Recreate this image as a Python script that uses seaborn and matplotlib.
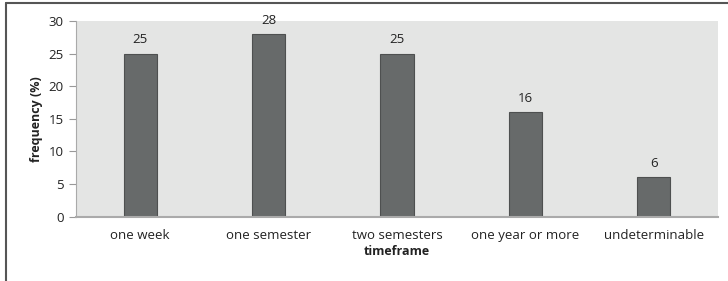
import matplotlib
matplotlib.use("Agg")
import matplotlib.pyplot as plt
import seaborn as sns
import pandas as pd

categories = ["one week", "one semester", "two semesters", "one year or more", "undeterminable"]
values = [25, 28, 25, 16, 6]
yticks = [0, 5, 10, 15, 20, 25, 30]

sns.set_theme(style="white")
plt.rcParams['font.family'] = ['Open Sans', 'DejaVu Sans']

df = pd.DataFrame({"timeframe": categories, "frequency": values})

fig = plt.figure(figsize=(7.28, 2.81), dpi=100)
ax = fig.add_axes([76/728, 1 - 216.5/281, 642/728, 195.5/281])
ax.set_facecolor("#e4e5e4")

sns.barplot(data=df, x="timeframe", y="frequency", ax=ax, color="#676a6a",
            width=0.26, edgecolor="#4e5050", linewidth=0.8, saturation=1)

for i, v in enumerate(values):
    ax.text(i, v + 1.1, str(v), ha="center", va="bottom", fontsize=9.5, color="#222222")

ax.set_ylim(0, 30)
ax.set_xlim(-0.5, len(categories) - 0.5)
ax.set_yticks(yticks)
ax.set_yticklabels([str(t) for t in yticks], fontsize=9.5, color="#222222")
ax.tick_params(axis="y", length=5, width=0.8, color="#999999", pad=4, left=True)
ax.tick_params(axis="x", length=0, pad=9, labelsize=9.5, labelcolor="#222222")

for s in ["top", "right"]:
    ax.spines[s].set_visible(False)
ax.spines["left"].set_color("#aaaaaa")
ax.spines["left"].set_linewidth(0.8)
ax.spines["bottom"].set_color("#aaaaaa")
ax.spines["bottom"].set_linewidth(1.5)

ax.set_xlabel("timeframe", fontsize=9, fontweight="bold", color="#222222", labelpad=2)
ax.set_ylabel("frequency (%)", fontsize=9, fontweight="bold", color="#222222", labelpad=4)

# outer frame lines (top and left)
fig.add_artist(plt.Line2D([5.5/728, 5.5/728], [0, 1 - 3/281], transform=fig.transFigure,
                          color="#555555", linewidth=1.5))
fig.add_artist(plt.Line2D([5.5/728, 1], [1 - 3/281, 1 - 3/281], transform=fig.transFigure,
                          color="#555555", linewidth=1.5))

fig.savefig("out.png", dpi=100)
